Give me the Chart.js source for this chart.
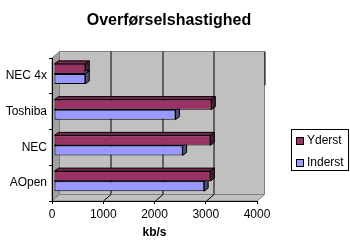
<!DOCTYPE html>
<html>
<head>
<meta charset="utf-8">
<script src="https://cdn.jsdelivr.net/npm/chart.js@4"></script>
<style>
	body { margin: 0; background: #fff; }
	#wrap { width: 350px; height: 252px; }
</style>
</head>
<body>
<div id="wrap"><canvas id="myChart" width="350" height="252"></canvas></div>
<script>
// data
let categories = ['NEC 4x', 'Toshiba', 'NEC', 'AOpen']
let yderst = [610, 3070, 3050, 3050]
let inderst = [610, 2370, 2510, 2930]
let xTicks = [0, 1000, 2000, 3000, 4000]
let seriesNames = ['Yderst', 'Inderst']

let font = '"Liberation Sans", Arial, sans-serif'
let colors = ['#993366', '#9999ff']
let tops = ['#7a2952', '#7a7acc']
let sides = ['#4d1a33', '#4d4d80']

// depth of the box and of the bars
let dx = 7.5, dy = -6.5
let bdx = 4, bdy = -3

let poly = (ctx, pts, fill, stroke) => {
	ctx.beginPath()
	ctx.moveTo(pts[0][0], pts[0][1])
	pts.slice(1).forEach(p => ctx.lineTo(p[0], p[1]))
	ctx.closePath()
	ctx.fillStyle = fill
	ctx.fill()
	if (stroke) {
		ctx.strokeStyle = stroke
		ctx.lineWidth = 1
		ctx.stroke()
	}
}

let box3d = {
	id: 'box3d',
	beforeDraw: chart => {
		let ctx = chart.ctx
		let a = chart.chartArea
		let L = a.left, R = a.right, T = a.top, B = a.bottom
		ctx.save()
		ctx.fillStyle = '#fff'
		ctx.fillRect(0, 0, chart.width, chart.height)
		// back wall
		poly(ctx, [[L + dx, T + dy], [R + dx, T + dy], [R + dx, B + dy], [L + dx, B + dy]], '#c0c0c0', '#808080')
		// left wall
		poly(ctx, [[L, T], [L + dx, T + dy], [L + dx, B + dy], [L, B]], '#a0a0a0', '#808080')
		// floor
		poly(ctx, [[L, B], [L + dx, B + dy], [R + dx, B + dy], [R, B]], '#c0c0c0', '#808080')
		// gridlines on back wall and floor
		let xs = chart.scales.x
		ctx.strokeStyle = '#000'
		ctx.lineWidth = 1
		xTicks.slice(1, -1).forEach(v => {
			let px = Math.round(xs.getPixelForValue(v)) + 0.5
			ctx.beginPath()
			ctx.moveTo(px + dx, T + dy)
			ctx.lineTo(px + dx, B + dy)
			ctx.lineTo(px, B)
			ctx.stroke()
		})
		// last gridline only shows black near the top
		let pe = Math.round(xs.getPixelForValue(xTicks[xTicks.length - 1])) + 0.5
		ctx.beginPath()
		ctx.moveTo(pe + dx, T + dy)
		ctx.lineTo(pe + dx, T + dy + 34)
		ctx.stroke()
		ctx.restore()
	},
	beforeDatasetsDraw: chart => {
		let ctx = chart.ctx
		ctx.save()
		ctx.translate(2, -2)
		chart.data.datasets.forEach((ds, i) => {
			chart.getDatasetMeta(i).data.forEach(bar => {
				let top = bar.y - bar.height / 2
				let bot = bar.y + bar.height / 2
				poly(ctx, [[bar.base, top], [bar.x, top], [bar.x + bdx, top + bdy], [bar.base + bdx, top + bdy]], tops[i], '#000')
				poly(ctx, [[bar.x, top], [bar.x + bdx, top + bdy], [bar.x + bdx, bot + bdy], [bar.x, bot]], sides[i], '#000')
			})
		})
	},
	afterDatasetsDraw: chart => {
		chart.ctx.restore()
	},
	afterDraw: chart => {
		// legend box
		let ctx = chart.ctx
		ctx.save()
		ctx.fillStyle = '#fff'
		ctx.fillRect(291.5, 129.5, 57, 41)
		ctx.strokeStyle = '#000'
		ctx.lineWidth = 1
		ctx.strokeRect(291.5, 129.5, 57, 41)
		ctx.font = '12px ' + font
		ctx.textBaseline = 'middle'
		seriesNames.forEach((name, i) => {
			let y = 141 + i * 22
			ctx.fillStyle = colors[i]
			ctx.fillRect(296.5, y - 3.5, 7, 7)
			ctx.strokeRect(296.5, y - 3.5, 7, 7)
			ctx.fillStyle = '#000'
			ctx.fillText(name, 307, y)
		})
		ctx.restore()
	}
}

Chart.defaults.color = '#000'
Chart.defaults.font.family = font
Chart.defaults.font.size = 12

let chart = new Chart(document.getElementById('myChart'), {
	type: 'bar',
	data: {
		labels: categories,
		datasets: [
			{ label: seriesNames[0], data: yderst, backgroundColor: colors[0], borderColor: '#000', borderWidth: 1, borderSkipped: false },
			{ label: seriesNames[1], data: inderst, backgroundColor: colors[1], borderColor: '#000', borderWidth: 1, borderSkipped: false }
		]
	},
	options: {
		indexAxis: 'y',
		responsive: false,
		animation: false,
		devicePixelRatio: 1,
		layout: { padding: { left: 0, right: 12, top: 0, bottom: 0 } },
		datasets: { bar: { categoryPercentage: 0.56, barPercentage: 1 } },
		plugins: {
			legend: { display: false },
			tooltip: { enabled: false },
			title: {
				display: true,
				text: 'Overførselshastighed',
				color: '#000',
				font: { size: 16, weight: 'bold' },
				padding: { top: 11.4, bottom: 27.4 }
			}
		},
		scales: {
			x: {
				min: 0,
				max: 4000,
				afterBuildTicks: scale => { scale.ticks = xTicks.map(v => ({ value: v })) },
				ticks: { padding: 3, callback: v => String(v) },
				grid: { drawOnChartArea: false, tickLength: 3, color: '#000' },
				border: { color: '#000' },
				title: { display: true, text: 'kb/s', font: { size: 12, weight: 'bold' }, padding: { top: 0, bottom: 12 } },
				afterFit: scale => { scale.height = 51 }
			},
			y: {
				ticks: { padding: 2 },
				grid: { offset: true, drawOnChartArea: false, tickLength: 3, color: '#000' },
				border: { color: '#000' },
				afterFit: scale => { scale.width = 52 }
			},
			yR: {
				type: 'linear',
				position: 'right',
				min: 0,
				max: 1,
				ticks: { display: false },
				grid: { display: false },
				border: { display: false },
				afterFit: scale => { scale.width = 81 }
			}
		}
	},
	plugins: [box3d]
})
</script>
</body>
</html>
